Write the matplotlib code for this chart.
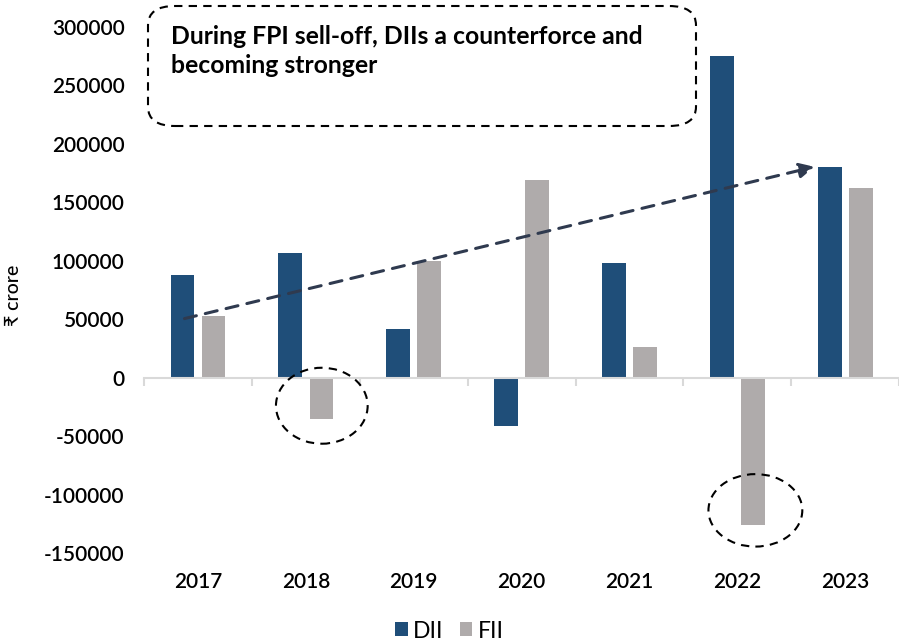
import matplotlib.pyplot as plt
from matplotlib.patches import Ellipse, FancyBboxPatch
import numpy as np

years = ["2017", "2018", "2019", "2020", "2021", "2022", "2023"]
dii = [88000, 107000, 42000, -41000, 98000, 275000, 180000]
fii = [53000, -35000, 100000, 169000, 26000, -126000, 162000]
yticks = [-150000, -100000, -50000, 0, 50000, 100000, 150000, 200000, 250000, 300000]

DII_COL = "#1f4e79"
FII_COL = "#afabab"

plt.rcParams['font.family'] = ['Lato', 'DejaVu Sans']

fig = plt.figure(figsize=(8.99, 6.42), dpi=100)
ax = fig.add_axes([0.1602, 0.1386, 0.840, 0.8193])

x = np.arange(len(years))
w = 0.22
off = 0.144
ax.bar(x - off, dii, w, color=DII_COL, label="DII", zorder=2)
ax.bar(x + off, fii, w, color=FII_COL, label="FII", zorder=2)

ax.set_xlim(-0.5, len(years) - 0.5)
ax.set_ylim(-150000, 300000)

# y axis
ax.set_yticks(yticks)
ax.set_yticklabels([str(v) for v in yticks], fontsize=15, fontweight='semibold')
ax.tick_params(axis='y', length=0, pad=14)
ax.set_ylabel("₹ crore", fontsize=14, fontweight='medium')
ax.yaxis.set_label_coords(-0.162, 0.49)

# zero axis with category boundary ticks
for s in ['top', 'right', 'left']:
    ax.spines[s].set_visible(False)
ax.spines['bottom'].set_position(('data', 0))
ax.spines['bottom'].set_color('#d9d9d9')
ax.spines['bottom'].set_linewidth(1.5)
ax.set_xticks(np.arange(len(years) + 1) - 0.5)
ax.set_xticklabels([])
ax.tick_params(axis='x', length=6, color='#d9d9d9', width=1.5, direction='out')

sec = ax.secondary_xaxis('bottom')
sec.set_xticks(x)
sec.set_xticklabels(years, fontsize=15, fontweight='semibold')
sec.tick_params(length=0, pad=14)
sec.spines['bottom'].set_visible(False)

# trend arrow
ax.annotate("", xy=(5.74, 181000), xytext=(-0.15, 50000),
            arrowprops=dict(arrowstyle='-|>,head_length=0.9,head_width=0.45',
                            color='#2f3a4f', lw=2.2, linestyle=(0, (4, 3))),
            zorder=4)

# highlight circles
for cx, cy, ew, eh in [(1.148, -24000, 0.85, 65000), (5.167, -113500, 0.87, 62000)]:
    ax.add_patch(Ellipse((cx, cy), ew, eh, fill=False, edgecolor='black',
                         lw=1.5, linestyle=(0, (4, 3)), zorder=5))

# text box
box = FancyBboxPatch((148 / 899, 1 - 126 / 642), 548 / 899, 120 / 642,
                     boxstyle="round,pad=0,rounding_size=0.03",
                     transform=fig.transFigure, fill=False, edgecolor='black',
                     lw=1.5, linestyle=(0, (4, 3)))
fig.patches.append(box)
fig.text(171 / 899, 1 - 25 / 642, "During FPI sell-off, DIIs a counterforce and\nbecoming stronger",
         fontsize=17.8, fontweight='bold', va='top', ha='left', linespacing=1.32,
         transform=fig.transFigure)

fig.legend(loc='center', bbox_to_anchor=(0.5, 1 - 631 / 642), ncol=2, frameon=False,
           fontsize=16.5, handlelength=0.55, handleheight=0.55, handletextpad=0.25,
           columnspacing=0.7, borderaxespad=0)

fig.savefig("out.png", dpi=100)
